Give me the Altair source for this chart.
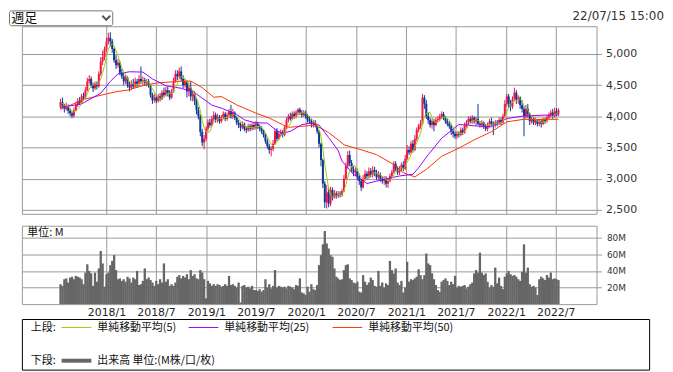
import altair as alt
import pandas as pd
from datetime import date, timedelta

# ---------------- data ----------------
first_week = date(2017, 7, 17)   # weekly candles, Monday of each week

open_ = [
4150,4230,4180,4120,4160,4090,4050,4010,4100,4180,
4250,4220,4320,4300,4420,4560,4600,4500,4450,4520,
4480,4680,4880,4950,5080,5200,5260,5200,5080,4900,
4820,4860,4700,4640,4560,4620,4500,4460,4520,4480,
4560,4520,4600,4560,4580,4540,4560,4500,4340,4260,
4300,4250,4320,4280,4380,4340,4420,4380,4300,4400,
4560,4680,4640,4720,4600,4500,4560,4400,4460,4320,
4360,4250,4100,4000,3750,3580,3640,3800,3900,3860,
3960,4020,3940,3990,3920,3980,4040,3960,4020,4080,
4000,4060,3980,3900,3860,3820,3880,3800,3780,3840,
3800,3860,3820,3880,3840,3800,3760,3700,3600,3520,
3460,3480,3560,3760,3640,3720,3740,3700,3820,3940,
4000,3960,4040,4000,4060,4110,4060,4020,4060,4000,
3950,3920,3880,3900,3860,3760,3560,3300,2920,2620,
2780,2600,2820,2700,2760,2720,2760,2740,2800,3000,
3200,3380,3250,3150,3100,3120,3040,2960,2860,3000,
3080,3040,3120,3060,3140,3100,3020,3060,3000,2960,
3000,2920,2960,3040,3100,3240,3160,3100,3160,3220,
3160,3320,3460,3420,3560,3460,3640,3780,3850,3880,
4300,4200,4000,3940,3860,3920,3860,3940,3960,4000,
4040,3980,3920,3880,3840,3760,3720,3680,3720,3700,
3780,3740,3860,3900,3960,3920,3980,3920,3960,3880,
3860,3900,3840,3800,3860,3920,3880,3860,3900,3880,
3940,3900,4000,4200,4320,4200,4160,4280,4380,4260,
4300,4180,4120,4000,4120,4040,3920,3960,3900,3940,
3880,3920,3880,3940,3920,3980,4020,4060,4000,4080,
4040]

close = [
4230,4180,4120,4160,4090,4050,4010,4100,4180,4250,
4220,4320,4300,4420,4560,4600,4500,4450,4520,4480,
4680,4880,4950,5080,5200,5260,5200,5080,4900,4820,
4860,4700,4640,4560,4620,4500,4460,4520,4480,4560,
4520,4600,4560,4580,4540,4560,4500,4340,4260,4300,
4250,4320,4280,4380,4340,4420,4380,4300,4400,4560,
4680,4640,4720,4600,4500,4560,4400,4460,4320,4360,
4250,4100,4000,3750,3580,3640,3800,3900,3860,3960,
4020,3940,3990,3920,3980,4040,3960,4020,4080,4000,
4060,3980,3900,3860,3820,3880,3800,3780,3840,3800,
3860,3820,3880,3840,3800,3760,3700,3600,3520,3460,
3480,3560,3760,3640,3720,3740,3700,3820,3940,4000,
3960,4040,4000,4060,4110,4060,4020,4060,4000,3950,
3920,3880,3900,3860,3760,3560,3300,2920,2620,2780,
2600,2820,2700,2760,2720,2760,2740,2800,3000,3200,
3380,3250,3150,3100,3120,3040,2960,2860,3000,3080,
3040,3120,3060,3140,3100,3020,3060,3000,2960,3000,
2920,2960,3040,3100,3240,3160,3100,3160,3220,3160,
3320,3460,3420,3560,3460,3640,3780,3850,3880,4300,
4200,4000,3940,3860,3920,3860,3940,3960,4000,4040,
3980,3920,3880,3840,3760,3720,3680,3720,3700,3780,
3740,3860,3900,3960,3920,3980,3920,3960,3880,3860,
3900,3840,3800,3860,3920,3880,3860,3900,3880,3940,
3900,4000,4200,4320,4200,4160,4280,4380,4260,4300,
4180,4120,4000,4120,4040,3920,3960,3900,3940,3880,
3920,3880,3940,3920,3980,4020,4060,4000,4080,4040,
4100]

high = [
4280,4300,4200,4220,4190,4130,4080,4140,4230,4290,
4310,4360,4380,4470,4620,4660,4640,4540,4560,4560,
4720,4950,5050,5120,5260,5340,5350,5240,5100,4980,
4920,4880,4760,4700,4660,4640,4560,4580,4600,4620,
4600,4660,4800,4640,4620,4600,4600,4520,4380,4360,
4340,4360,4370,4420,4460,4470,4480,4420,4440,4620,
4740,4740,4780,4800,4660,4600,4580,4540,4560,4420,
4400,4290,4150,4030,3800,3700,3840,3950,3960,4000,
4080,4060,4040,4020,4020,4080,4070,4060,4120,4185,
4120,4080,4000,3940,3900,3920,3900,3840,3880,3880,
3900,3890,3920,3910,3870,3840,3780,3720,3640,3560,
3520,3620,3800,3810,3760,3790,3780,3860,3980,4040,
4060,4080,4080,4100,4130,4140,4100,4100,4090,4040,
4000,3960,3940,3940,3880,3780,3580,3320,2960,2900,
2860,2870,2860,2820,2800,2800,2800,2840,3060,3260,
3440,3450,3300,3200,3180,3160,3080,3000,3060,3140,
3120,3180,3170,3200,3190,3140,3120,3100,3040,3040,
3040,3000,3080,3140,3280,3280,3200,3200,3260,3280,
3380,3540,3520,3600,3620,3700,3820,3880,3940,4360,
4340,4260,4060,3980,3960,3960,3980,4000,4040,4080,
4070,4000,3960,3920,3880,3800,3760,3760,3760,3820,
3820,3900,3940,4000,4000,4020,4000,3990,4200,3920,
3940,3920,3880,3900,3960,3980,3920,3940,3940,3980,
3980,4040,4260,4360,4360,4260,4320,4460,4420,4340,
4320,4260,4160,4180,4200,4060,4000,3990,3980,3960,
3960,3960,3980,3980,4020,4060,4100,4120,4140,4130,
4130]

low = [
4120,4150,4060,4090,4040,4000,3970,3980,4080,4150,
4180,4200,4260,4280,4400,4520,4460,4390,4420,4430,
4460,4650,4820,4900,5040,5150,5120,5020,4860,4760,
4780,4660,4600,4500,4520,4460,4400,4420,4440,4460,
4460,4490,4520,4500,4490,4480,4460,4300,4200,4220,
4210,4220,4240,4260,4300,4320,4320,4260,4280,4380,
4540,4580,4600,4560,4450,4460,4300,4320,4250,4240,
4180,4030,3950,3680,3520,3470,3600,3760,3820,3840,
3920,3900,3900,3880,3890,3950,3920,3930,3980,3960,
3960,3940,3860,3810,3760,3790,3760,3730,3750,3760,
3770,3780,3790,3800,3760,3720,3660,3560,3480,3400,
3360,3440,3540,3600,3620,3680,3660,3680,3800,3900,
3930,3940,3960,3970,4010,4020,3980,3990,3960,3900,
3880,3820,3820,3820,3720,3500,3200,2850,2530,2520,
2540,2560,2650,2680,2680,2690,2700,2710,2780,2980,
3160,3200,3100,3040,3040,2980,2900,2800,2840,2960,
2980,3000,3020,3020,3040,2980,2980,2950,2920,2900,
2860,2850,2940,3000,3080,3120,3060,3060,3120,3120,
3140,3300,3380,3400,3420,3440,3600,3740,3800,3860,
4120,3960,3880,3820,3800,3760,3840,3900,3920,3960,
3940,3880,3840,3800,3700,3660,3640,3640,3660,3680,
3700,3720,3820,3860,3880,3880,3880,3840,3860,3820,
3820,3800,3760,3760,3820,3840,3700,3820,3840,3860,
3860,3880,3980,4160,4140,4080,4120,4240,4200,4200,
4120,4060,3680,3960,3980,3860,3880,3860,3860,3840,
3840,3820,3860,3880,3900,3940,3980,3960,3980,4000,
4000]

volume_m = [
24,22,30,31,26,32,33,30,34,33,
32,30,24,38,48,40,37,22,38,27,
43,64,49,21,36,38,47,52,59,41,
30,31,28,30,27,33,31,26,32,30,
40,23,24,28,43,30,32,29,26,22,
28,24,30,26,49,27,30,22,24,22,
26,33,35,31,34,32,36,30,41,34,
36,31,30,41,38,30,7,28,25,22,
24,22,24,23,21,22,24,22,34,23,
24,22,20,26,2,22,23,20,21,19,
22,17,17,16,18,15,17,30,20,24,
19,22,41,20,22,21,20,21,19,22,
21,20,18,23,22,31,14,13,11,21,
15,24,18,17,23,47,59,72,88,73,
67,59,57,43,33,31,29,30,41,47,
48,31,29,26,25,27,15,14,35,27,
23,26,32,29,22,21,40,22,26,20,
25,23,52,41,37,43,26,23,28,14,
20,51,27,30,29,31,33,42,35,30,
35,61,49,47,37,30,23,17,15,27,
29,31,28,23,27,24,34,20,22,21,
22,23,19,21,24,26,37,41,38,62,
38,35,37,27,20,23,21,44,25,32,
22,18,33,37,40,36,34,35,33,30,
28,39,72,38,44,24,21,22,20,11,
30,33,31,29,35,32,38,30,31,30,
29]

ma25_week = [0, 11, 21, 26, 30, 36, 43, 48, 55, 63, 70, 79, 84, 92, 96, 101, 108,
             113, 116, 120, 126, 130, 135, 140, 145, 147, 153, 160, 169, 177, 184,
             187, 192, 199, 208, 216, 225, 233, 242, 260]
ma25_value = [4140, 4200, 4370, 4560, 4680, 4715, 4710, 4600, 4490, 4450, 4380, 4180,
              4131, 4030, 3945, 3900, 3890, 3770, 3730, 3760, 3866, 3890, 3860, 3660,
              3450, 3280, 3070, 2922, 2991, 3043, 3070, 3175, 3385, 3648, 3869, 3848,
              3832, 3964, 4006, 4027]

ma50_week = [0, 12, 24, 30, 35, 45, 52, 62, 68, 74, 80, 84, 92, 102, 109, 116, 119,
             126, 133, 140, 145, 148, 157, 165, 174, 179, 185, 191, 199, 208, 216,
             225, 233, 242, 248, 260]
ma50_value = [4110, 4270, 4360, 4400, 4420, 4510, 4540, 4560, 4565, 4460, 4306, 4317,
              4184, 4051, 3972, 3866, 3824, 3840, 3859, 3740, 3622, 3543, 3464, 3385,
              3227, 3096, 3028, 3148, 3359, 3490, 3622, 3753, 3911, 3953, 3948, 3953]

tick_months = [(2018, 1), (2018, 7), (2019, 1), (2019, 7), (2020, 1), (2020, 7),
               (2021, 1), (2021, 7), (2022, 1), (2022, 7)]
price_ticks = [2500, 3000, 3500, 4000, 4500, 5000]
volume_ticks = [20, 40, 60, 80]
ma_labels = ["単純移動平均(5)", "単純移動平均(25)", "単純移動平均(50)"]
upper_label = "上段:"
lower_label = "下段:"
volume_legend_label = "出来高 単位:(M株/口/枚)"
volume_unit_label = "単位: M"
timestamp_label = "22/07/15 15:00"
period_label = "週足"

# ---------------- tables ----------------
def week_date(i):
    return (first_week + timedelta(weeks=i)).isoformat()

candles = pd.DataFrame({
    "date": [week_date(i) for i in range(len(close))],
    "open": open_, "high": high, "low": low, "close": close, "volume": volume_m,
})
ma25 = pd.DataFrame({"date": [week_date(i) for i in ma25_week], "value": ma25_value})
ma50 = pd.DataFrame({"date": [week_date(i) for i in ma50_week], "value": ma50_value})

# ---------------- styling ----------------
RED = "#f2164b"
BLUE = "#0c3798"
GREEN = "#9acd00"
PURPLE = "#9b00ff"
ORANGE = "#ff3300"
GRID = "#999999"
VOL = "#666666"
JP = "Noto Sans CJK JP"
LAT = "DejaVu Sans"

W = 579
H_PRICE = 189
H_VOL = 79

x_scale = alt.Scale(type="utc", domain=[
    alt.DateTime(year=2017, month=3, date=16, utc=True),
    alt.DateTime(year=2022, month=11, date=9, utc=True)])
tick_values = [alt.DateTime(year=y, month=m, date=1, utc=True) for y, m in tick_months]

price_x_axis = alt.Axis(values=tick_values, grid=True, gridColor=GRID, labels=False,
                        ticks=False, domain=False, title=None)
vol_x_axis = alt.Axis(values=tick_values, grid=True, gridColor=GRID, ticks=False,
                      domain=False, title=None, format="%Y/%-m", labelPadding=2,
                      labelFont=LAT, labelFontSize=11, labelColor="#222",
                      labelOverlap=False, labelFlush=False)


def PX(field):
    return alt.X(f"{field}:T", scale=x_scale, axis=price_x_axis)


def VX(field):
    return alt.X(f"{field}:T", scale=x_scale, axis=vol_x_axis)


price_scale = alt.Scale(domain=[2436, 5445], nice=False, zero=False)
price_y_axis = alt.Axis(orient="right", values=price_ticks, format=",d", grid=True,
                        gridColor=GRID, tickColor=GRID, tickSize=5, domain=False,
                        labelPadding=4, labelFont=LAT, labelFontSize=11,
                        labelColor="#333", title=None)


def PY(field):
    return alt.Y(f"{field}:Q", scale=price_scale, axis=price_y_axis)


up_color = alt.condition("datum.close >= datum.open", alt.value(RED), alt.value(BLUE))

base = alt.Chart(candles)
wicks = base.mark_rule(strokeWidth=1).encode(
    x=PX("date"), y=PY("low"), y2="high:Q", color=up_color)
bodies = base.mark_bar(size=2).encode(
    x=PX("date"), y=PY("open"), y2="close:Q", color=up_color)
ma50_line = alt.Chart(ma50).mark_line(color=ORANGE, strokeWidth=1).encode(
    x=PX("date"), y=PY("value"))
ma25_line = alt.Chart(ma25).mark_line(color=PURPLE, strokeWidth=1).encode(
    x=PX("date"), y=PY("value"))
ma5_line = base.transform_window(
    ma5="mean(close)", frame=[-4, 0], sort=[alt.SortField("date")]
).mark_line(color=GREEN, strokeWidth=1).encode(x=PX("date"), y=PY("ma5"))

one = alt.Data(values=[{"k": 1}])
dropdown_box = alt.Chart(one).mark_rect(
    fill="white", stroke="#767676", strokeWidth=1, cornerRadius=2).encode(
    x=alt.value(-12.5), x2=alt.value(91.5), y=alt.value(-15.5), y2=alt.value(-0.5))
dropdown_text = alt.Chart(pd.DataFrame({"t": [period_label]})).mark_text(
    align="left", baseline="middle", font=JP, fontSize=13, color="#111").encode(
    text="t:N", x=alt.value(-10.5), y=alt.value(-8))
dropdown_chev = alt.Chart(one).mark_point(
    shape="M-1,-0.5L0,0.5L1,-0.5", filled=False, strokeWidth=2, size=64,
    color="#111").encode(x=alt.value(85), y=alt.value(-8.5))
stamp = alt.Chart(pd.DataFrame({"t": [timestamp_label]})).mark_text(
    align="right", baseline="middle", font=LAT, fontSize=12, color="#333").encode(
    text="t:N", x=alt.value(647), y=alt.value(-10))

price = alt.layer(
    wicks, bodies, ma50_line, ma25_line, ma5_line,
    dropdown_box, dropdown_text, dropdown_chev, stamp,
).properties(width=W, height=H_PRICE, view=alt.ViewBackground(stroke=GRID))

vol_scale = alt.Scale(domain=[0, 94.4], nice=False, zero=True)
vol_y_axis = alt.Axis(orient="right", values=volume_ticks, labelExpr="datum.value + 'M'",
                      grid=True, gridColor=GRID, tickColor=GRID, tickSize=5, domain=False,
                      labelPadding=5, labelFont=LAT, labelFontSize=9, labelColor="#333",
                      title=None)
vol_bars = base.mark_bar(size=2.3, color=VOL).encode(
    x=VX("date"), y=alt.Y("volume:Q", scale=vol_scale, axis=vol_y_axis))
vol_unit = alt.Chart(pd.DataFrame({"t": [volume_unit_label]})).mark_text(
    align="left", baseline="middle", font=JP, fontSize=11, color="#111").encode(
    text="t:N", x=alt.value(5.5), y=alt.value(7))
volume = alt.layer(vol_bars, vol_unit).properties(
    width=W, height=H_VOL, view=alt.ViewBackground(stroke=GRID))

# ---------------- legend panel ----------------
legend_layers = [
    alt.Chart(one).mark_rect(fill="white", stroke="#000", strokeWidth=1).encode(
        x=alt.value(0.5), x2=alt.value(632.5), y=alt.value(3.5), y2=alt.value(54.5)),
]


def legend_text(label, x, y):
    return alt.Chart(pd.DataFrame({"t": [label]})).mark_text(
        align="left", baseline="middle", font=JP, fontSize=11, color="#111").encode(
        text="t:N", x=alt.value(x), y=alt.value(y))


def legend_swatch(swatch_color, x, y_top, thickness):
    # a solid strip drawn as a filled rectangle so that it stays crisp
    return alt.Chart(one).mark_rect(strokeWidth=0).encode(
        x=alt.value(x), x2=alt.value(x + 30),
        y=alt.value(y_top), y2=alt.value(y_top + thickness),
        color=alt.value(swatch_color), fill=alt.value(swatch_color))


ROW1, ROW2 = 12, 45
legend_layers.append(legend_text(upper_label, 9, ROW1))
for label, swatch_color, x0 in zip(ma_labels, [GREEN, PURPLE, ORANGE], [40, 168, 313]):
    legend_layers.append(legend_swatch(swatch_color, x0, ROW1 - 1, 1))
    legend_layers.append(legend_text(label, x0 + 36, ROW1))
legend_layers.append(legend_text(lower_label, 9, ROW2))
legend_layers.append(legend_swatch(VOL, 40, ROW2 - 2, 4))
legend_layers.append(legend_text(volume_legend_label, 76, ROW2))

legend = alt.layer(*legend_layers).properties(
    width=633, height=55, view=alt.ViewBackground(strokeOpacity=0))

chart = alt.vconcat(price, volume, legend, spacing=12, bounds="flush").properties(
    padding={"left": 0, "top": 0, "right": 0, "bottom": 0},
    autosize=alt.AutoSizeParams(type="pad"),
).configure(background="white")

chart.save("out.html", embed_options={"renderer": "svg", "actions": False})
